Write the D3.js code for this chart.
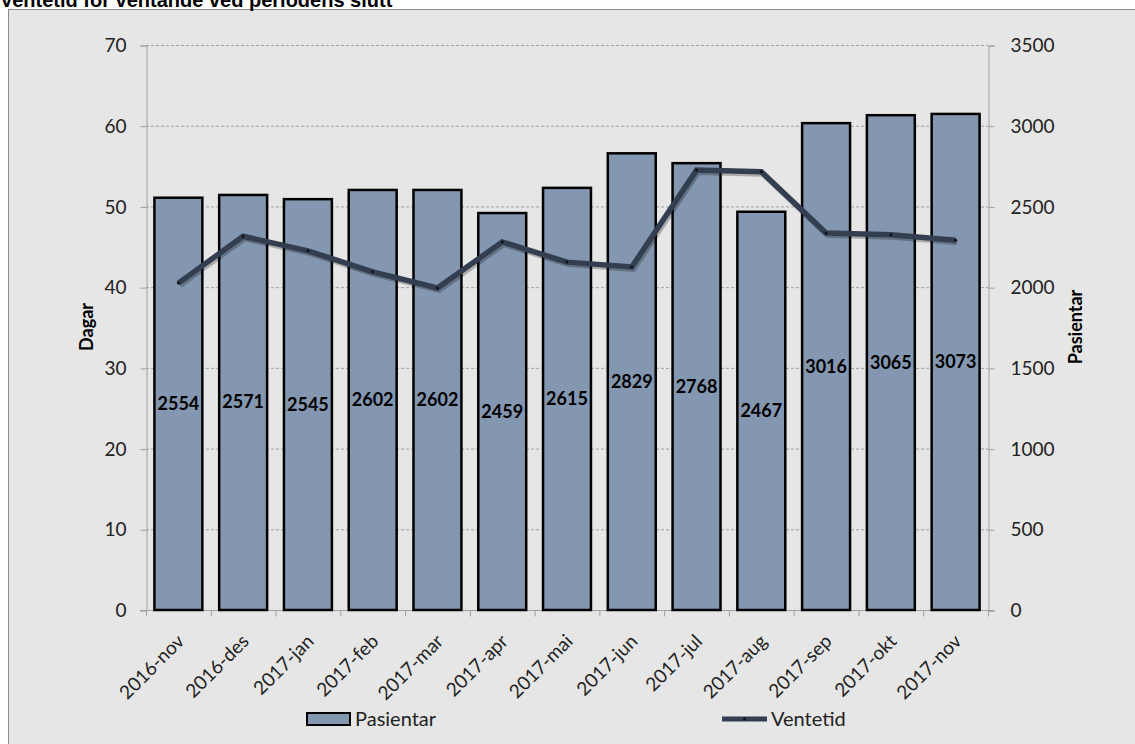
<!DOCTYPE html>
<html>
<head>
<meta charset="utf-8">
<script src="https://cdn.jsdelivr.net/npm/d3@7"></script>
<style>
  body { margin: 0; background: #fff; }
  svg { display: block; }
</style>
</head>
<body>
<svg id="chart" width="1135" height="744"></svg>
<script>
// data
var months = ["2016-nov","2016-des","2017-jan","2017-feb","2017-mar","2017-apr","2017-mai",
              "2017-jun","2017-jul","2017-aug","2017-sep","2017-okt","2017-nov"];
var pasientar = [2554, 2571, 2545, 2602, 2602, 2459, 2615, 2829, 2768, 2467, 3016, 3065, 3073];
var ventetid = [40.5, 46.3, 44.5, 41.9, 39.9, 45.6, 43.1, 42.5, 54.5, 54.3, 46.7, 46.5, 45.8];
var dagarTicks = [0, 10, 20, 30, 40, 50, 60, 70];
var pasTicks = [0, 500, 1000, 1500, 2000, 2500, 3000, 3500];

(function() {
var svg = d3.select("#chart");
var font = "Lato, 'Open Sans', sans-serif";

var pLeft = 146, pRight = 988, pTop = 45, pBottom = 610;

// background of chart area
svg.append("rect").attr("x", 8.5).attr("y", 9.5).attr("width", 1135).attr("height", 744)
  .attr("fill", "#e6e6e6").attr("stroke", "#8c8c8c").attr("stroke-width", 1);

// title (cut off at the top)
svg.append("text").attr("x", 0).attr("y", 7)
  .attr("font-family", "'Liberation Sans', Arial, sans-serif").attr("font-weight", "bold")
  .attr("font-size", 20).attr("fill", "#000")
  .text("Ventetid for ventande ved periodens slutt");

var x = d3.scaleBand().domain(months).range([pLeft, pRight]).paddingInner(0.26).paddingOuter(0.13);
var yL = d3.scaleLinear().domain([0, 70]).range([pBottom, pTop]);
var yR = d3.scaleLinear().domain([0, 3500]).range([pBottom, pTop]);

// gridlines
svg.append("g").selectAll("line").data(dagarTicks.slice(1)).join("line")
  .attr("x1", pLeft).attr("x2", pRight)
  .attr("y1", function(d) { return yL(d) + 0.5; }).attr("y2", function(d) { return yL(d) + 0.5; })
  .attr("stroke", "#a0a0a0").attr("stroke-dasharray", "3,2").attr("stroke-width", 1);

// axes
var axL = svg.append("g").attr("transform", "translate(" + (pLeft + 0.5) + ",0.5)")
  .call(d3.axisLeft(yL).tickValues(dagarTicks).tickSize(6).tickPadding(14));
var axR = svg.append("g").attr("transform", "translate(" + (pRight + 0.5) + ",0.5)")
  .call(d3.axisRight(yR).tickValues(pasTicks).tickFormat(d3.format("d")).tickSize(6).tickPadding(16));
[axL, axR].forEach(function(ax) {
  ax.select(".domain").attr("stroke", "#a0a0a0");
  ax.selectAll(".tick line").attr("stroke", "#a0a0a0");
  ax.selectAll("text").attr("font-family", font).attr("font-size", 19).attr("fill", "#222");
});

// bottom axis with ticks between categories
var step = x.step();
var bx = svg.append("g").attr("transform", "translate(0," + (pBottom + 0.5) + ")");
bx.append("line").attr("x1", pLeft - 6).attr("x2", pRight + 6).attr("stroke", "#a0a0a0");
bx.selectAll("line.t").data(d3.range(months.length + 1)).join("line").attr("class", "t")
  .attr("x1", function(i) { return pLeft + i * step + 0.5; }).attr("x2", function(i) { return pLeft + i * step + 0.5; })
  .attr("y1", 0).attr("y2", 6).attr("stroke", "#a0a0a0");
bx.selectAll("text").data(months).join("text")
  .attr("transform", function(d) { return "translate(" + (x(d) + x.bandwidth() / 2 + 7) + ",32) rotate(-45)"; })
  .attr("text-anchor", "end").attr("font-family", font).attr("font-size", 19).attr("fill", "#222")
  .text(function(d) { return d; });

// bars
svg.append("g").selectAll("rect").data(pasientar).join("rect")
  .attr("x", function(d, i) { return x(months[i]); })
  .attr("y", function(d) { return yR(d); })
  .attr("width", x.bandwidth())
  .attr("height", function(d) { return pBottom - yR(d); })
  .attr("fill", "#8497b0").attr("stroke", "#000").attr("stroke-width", 2.5);

// bar labels
svg.append("g").selectAll("text").data(pasientar).join("text")
  .attr("x", function(d, i) { return x(months[i]) + x.bandwidth() / 2; })
  .attr("y", function(d) { return yR(d / 2) + 6; })
  .attr("text-anchor", "middle").attr("font-family", font).attr("font-weight", "bold")
  .attr("font-size", 18).attr("fill", "#000")
  .text(function(d) { return d; });

// line
var line = d3.line()
  .x(function(d, i) { return x(months[i]) + x.bandwidth() / 2; })
  .y(function(d) { return yL(d); });
svg.append("path").datum(ventetid).attr("d", line).attr("transform", "translate(1.5,2)")
  .attr("fill", "none").attr("stroke", "#000").attr("stroke-opacity", 0.25).attr("stroke-width", 6)
  .attr("stroke-linejoin", "round");
svg.append("path").datum(ventetid).attr("d", line)
  .attr("fill", "none").attr("stroke", "#333f50").attr("stroke-width", 5.5).attr("stroke-linejoin", "miter");
svg.append("g").selectAll("circle").data(ventetid).join("circle")
  .attr("cx", function(d, i) { return x(months[i]) + x.bandwidth() / 2; })
  .attr("cy", function(d) { return yL(d); })
  .attr("r", 1.5).attr("fill", "#111");

// axis titles
svg.append("text").attr("transform", "translate(93,327) rotate(-90)")
  .attr("text-anchor", "middle").attr("font-family", font).attr("font-weight", "bold")
  .attr("font-size", 18).text("Dagar");
svg.append("text").attr("transform", "translate(1082,327) rotate(-90)")
  .attr("text-anchor", "middle").attr("font-family", font).attr("font-weight", "bold")
  .attr("font-size", 18).text("Pasientar");

// legend
var lg = svg.append("g");
lg.append("rect").attr("x", 307).attr("y", 713).attr("width", 43).attr("height", 12)
  .attr("fill", "#8497b0").attr("stroke", "#000").attr("stroke-width", 2);
lg.append("text").attr("x", 355).attr("y", 726).attr("font-family", font).attr("font-size", 20)
  .attr("fill", "#222").text("Pasientar");
lg.append("line").attr("x1", 722).attr("x2", 767).attr("y1", 719).attr("y2", 719)
  .attr("stroke", "#333f50").attr("stroke-width", 5);
lg.append("circle").attr("cx", 744.5).attr("cy", 719).attr("r", 1.5).attr("fill", "#111");
lg.append("text").attr("x", 771).attr("y", 726).attr("font-family", font).attr("font-size", 20)
  .attr("fill", "#222").text("Ventetid");
})();
</script>
</body>
</html>
